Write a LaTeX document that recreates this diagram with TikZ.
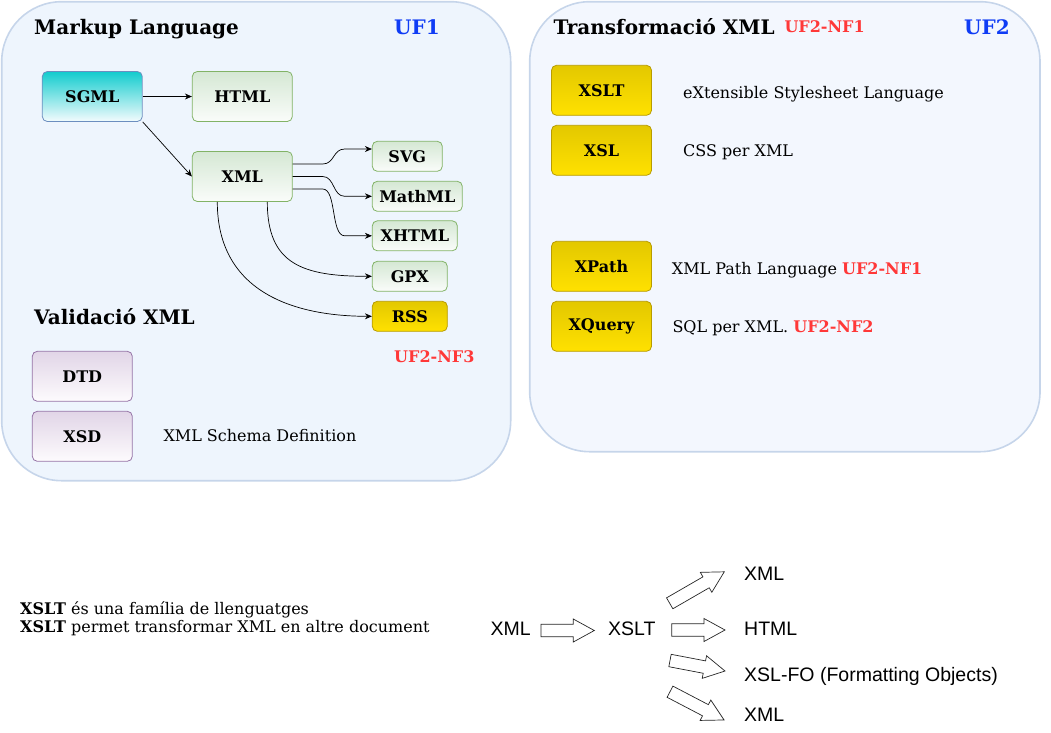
\documentclass[tikz,border=0pt]{standalone}
\usepackage{fontspec}
\setmainfont{DejaVu Serif}
\newfontfamily\arialf{Liberation Sans}
\usetikzlibrary{arrows.meta}
\definecolor{panelL}{HTML}{EEF5FD}
\definecolor{panelR}{HTML}{F3F7FE}
\definecolor{panelS}{HTML}{C6D5EA}
\definecolor{ufblue}{HTML}{0F3CF5}
\definecolor{ufred}{HTML}{FF3838}
\definecolor{tealT}{HTML}{12CCCE}
\definecolor{tealB}{HTML}{F3FBFD}
\definecolor{tealS}{HTML}{6C8EBF}
\definecolor{grnT}{HTML}{D5E8D4}
\definecolor{grnB}{HTML}{FAFCFA}
\definecolor{grnS}{HTML}{82B366}
\definecolor{purT}{HTML}{E1D5E7}
\definecolor{purB}{HTML}{FDFBFD}
\definecolor{purS}{HTML}{9673A6}
\definecolor{ylwT}{HTML}{E3C800}
\definecolor{ylwB}{HTML}{FFE100}
\definecolor{ylwS}{HTML}{B89C00}
\newcommand\blkarr[4]{\draw[barrow,shift={(#1,#2)},rotate=#3] (0,-6.3) -- (#4-21,-6.3) -- (#4-21,-11.5) -- (#4,0) -- (#4-21,11.5) -- (#4-21,6.3) -- (0,6.3) -- cycle;}
\begin{document}
\begin{tikzpicture}[x=1pt,y=-1pt,
  panel/.style={draw=panelS,line width=1.6pt,rounded corners=60pt},
  box/.style={draw,line width=0.8pt,rounded corners=5pt,inner sep=0pt,font=\fontsize{16}{19}\selectfont\bfseries,text=black},
  tealbox/.style={box,draw=tealS,top color=tealT,bottom color=tealB},
  grnbox/.style={box,draw=grnS,top color=grnT,bottom color=grnB},
  purbox/.style={box,draw=purS,top color=purT,bottom color=purB},
  ylwbox/.style={box,draw=ylwS,top color=ylwT,bottom color=ylwB},
  big/.style={minimum width=100pt,minimum height=50pt},
  title/.style={anchor=base west,inner sep=0pt,font=\fontsize{20}{24}\selectfont\bfseries},
  desc/.style={anchor=base west,inner sep=0pt,font=\fontsize{16}{19}\selectfont},
  redlab/.style={anchor=base west,inner sep=0pt,text=ufred,font=\fontsize{16}{19}\selectfont\bfseries},
  sanslab/.style={anchor=base west,inner sep=0pt,font=\arialf\fontsize{19.5}{23}\selectfont},
  conn/.style={draw=black,line width=0.7pt,-{Stealth[length=7pt,width=6pt]}},
  barrow/.style={draw=black!85,line width=0.7pt,fill=white,line join=miter}
]
\useasboundingbox (0,0) rectangle (1051,732);
% panels
\draw[panel,fill=panelL] (1.7,1.7) rectangle (510.7,480.7);
\draw[panel,fill=panelR] (529.7,1.7) rectangle (1040,451.7);
% titles
\node[title] (tml) at (34,34.3) {Markup Language};
\node[title,text=ufblue] (uf1) at (394,34.3) {UF1};
\node[title] (ttr) at (553.3,34.3) {Transformació XML};
\node[redlab] (nf1t) at (784.3,32.3) {UF2-NF1};
\node[title,text=ufblue] (uf2) at (964,34.3) {UF2};
% left boxes
\node[tealbox,big] (sgml) at (92.3,96.5) {SGML};
\node[grnbox,big] (html) at (242.3,96.5) {HTML};
\node[grnbox,big] (xml) at (242.3,176.5) {XML};
\node[grnbox,minimum width=70pt,minimum height=30pt] (svg) at (407.3,156.3) {SVG};
\node[grnbox,minimum width=90pt,minimum height=30pt] (mathml) at (417.3,196.3) {MathML};
\node[grnbox,minimum width=85pt,minimum height=30pt] (xhtml) at (414.8,235.8) {XHTML};
\node[grnbox,minimum width=75pt,minimum height=30pt] (gpx) at (409.8,276.3) {GPX};
\node[ylwbox,minimum width=75pt,minimum height=30pt] (rss) at (409.8,316.3) {RSS};
% connectors
\draw[conn] (sgml.east) -- (html.west);
\draw[conn] (sgml.south east) -- (xml.west);
\draw[conn] ([yshift=12.5pt]xml.east) -- ++(30,0) .. controls +(12,0) and +(-12,0) .. ++(22,-15) -- ([yshift=7.3pt]svg.west);
\draw[conn] (xml.east) -- ++(30,0) .. controls +(12,0) and +(-12,0) .. ++(22,19.8) -- (mathml.west);
\draw[conn] ([yshift=-12.5pt]xml.east) -- ++(30,0) .. controls +(14,0) and +(-14,0) .. ++(22,46.8) -- (xhtml.west);
\draw[conn] ([xshift=25pt]xml.south) .. controls +(0,62) and +(-70,0) .. (gpx.west);
\draw[conn] ([xshift=-25pt]xml.south) .. controls +(0,92) and +(-75,0) .. (rss.west);
% validation
\node[title] (tval) at (34,324) {Validació XML};
\node[redlab] (nf3) at (394,362.3) {UF2-NF3};
\node[purbox,big] (dtd) at (82.3,376.3) {DTD};
\node[purbox,big] (xsd) at (82.3,436.3) {XSD};
\node[desc] (dxsd) at (163.3,441.7) {XML Schema Definition};
% right boxes
\node[ylwbox,big] (xslt) at (601.5,90.3) {XSLT};
\node[ylwbox,big] (xsl) at (601.5,150.3) {XSL};
\node[ylwbox,big] (xpath) at (601.5,266.3) {XPath};
\node[ylwbox,big] (xquery) at (601.5,326.3) {XQuery};
\node[desc] (dxslt) at (683,98.7) {eXtensible Stylesheet Language};
\node[desc] (dxsl) at (683,156) {CSS per XML};
\node[desc] (dxpath) at (671.7,274) {XML Path Language {\color{ufred}\bfseries UF2-NF1}};
\node[desc] (dxq) at (672.3,332.3) {SQL per XML. {\color{ufred}\bfseries UF2-NF2}};
% bottom left
\node[desc] (note1) at (20,614) {\textbf{XSLT} és una família de llenguatges};
\node[desc] (note2) at (20,632.7) {\textbf{XSLT} permet transformar XML en altre document};
% bottom right
\node[sanslab] (sxml) at (490.4,635) {XML};
\node[sanslab] (sxslt) at (608,635) {XSLT};
\node[sanslab] (o1) at (744,580.7) {XML};
\node[sanslab] (o2) at (744,635) {HTML};
\node[sanslab] (o3) at (744,681.7) {XSL-FO (Formatting Objects)};
\node[sanslab] (o4) at (744,721) {XML};
\blkarr{541}{630.5}{0}{53.3}
\blkarr{671.7}{630}{0}{53.3}
\blkarr{669.7}{603.3}{30}{63}
\blkarr{670}{660.5}{-10.8}{56}
\blkarr{670}{691.7}{-27.6}{61}
\end{tikzpicture}
\end{document}
